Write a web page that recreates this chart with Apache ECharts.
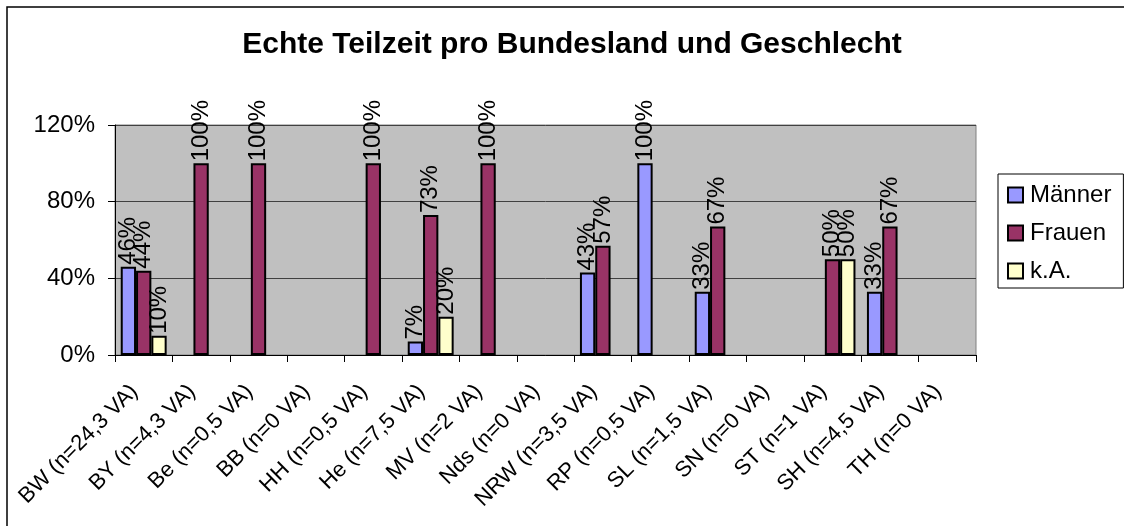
<!DOCTYPE html>
<html>
<head>
<meta charset="utf-8">
<title>Echte Teilzeit pro Bundesland und Geschlecht</title>
<script src="https://cdn.jsdelivr.net/npm/echarts@6/dist/echarts.min.js"></script>
<style>
  html, body { margin: 0; padding: 0; background: #fff; }
  #chart { width: 1124px; height: 526px; }
</style>
</head>
<body>
<div id="chart"></div>
<script>
// Bundesländer mit Anzahl der Vollzeitäquivalente
const categories = [
  'BW (n=24,3 VA)', 'BY (n=4,3 VA)', 'Be (n=0,5 VA)', 'BB (n=0 VA)', 'HH (n=0,5 VA)',
  'He (n=7,5 VA)', 'MV (n=2 VA)', 'Nds (n=0 VA)', 'NRW (n=3,5 VA)', 'RP (n=0,5 VA)',
  'SL (n=1,5 VA)', 'SN (n=0 VA)', 'ST (n=1 VA)', 'SH (n=4,5 VA)', 'TH (n=0 VA)'
];

// Anteile in Prozent (null = kein Wert)
const maenner     = [46, null, null, null, null, 7, null, null, 43, 100, 33, null, null, 33, null];
const frauen      = [44, 100, 100, null, 100, 73, 100, null, 57, null, 67, null, 50, 67, null];
const keineAngabe = [10, null, null, null, null, 20, null, null, null, null, null, null, 50, null, null];

const yTicks = [0, 40, 80, 120];

const FONT = "'Liberation Sans', Arial, sans-serif";

const chart = echarts.init(document.getElementById('chart'), null, { renderer: 'canvas' });

const labelCfg = {
  show: true,
  position: 'top',
  rotate: 90,
  align: 'left',
  verticalAlign: 'middle',
  distance: 2,
  formatter: p => p.value + '%',
  color: '#000',
  fontFamily: FONT,
  fontSize: 24
};

function barSeries(name, data, color) {
  return {
    name: name,
    type: 'bar',
    data: data,
    barGap: '0%',
    barCategoryGap: '20%',
    itemStyle: { color: color, borderColor: '#000', borderWidth: 2 },
    label: labelCfg,
    emphasis: { disabled: true },
    animation: false
  };
}

chart.setOption({
  animation: false,
  textStyle: { fontFamily: FONT },
  title: {
    text: 'Echte Teilzeit pro Bundesland und Geschlecht',
    left: 572,
    top: 30,
    textAlign: 'center',
    padding: 0,
    textStyle: { fontFamily: FONT, fontSize: 30, fontWeight: 'bold', color: '#000' }
  },
  graphic: [{
    type: 'rect',
    shape: { x: 7, y: 7, width: 1200, height: 600 },
    style: { fill: 'none', stroke: '#000', lineWidth: 1.5 },
    silent: true,
    z: -10
  }],
  legend: {
    orient: 'vertical',
    left: 998,
    top: 174,
    padding: [9, 12, 5, 9],
    itemGap: 14,
    itemWidth: 15,
    itemHeight: 15,
    icon: 'rect',
    backgroundColor: '#fff',
    borderColor: '#000',
    borderWidth: 1,
    itemStyle: { borderColor: '#000', borderWidth: 2 },
    textStyle: { fontFamily: FONT, fontSize: 24, color: '#000', padding: [0, 0, 0, 2] },
    data: ['Männer', 'Frauen', 'k.A.']
  },
  grid: {
    left: 115,
    top: 125,
    right: 148,
    bottom: 171,
    show: true,
    backgroundColor: '#C0C0C0',
    borderColor: '#808080',
    borderWidth: 1,
    containLabel: false
  },
  xAxis: {
    type: 'category',
    data: categories,
    boundaryGap: true,
    axisLine: { show: true, lineStyle: { color: '#000', width: 1 } },
    axisTick: { show: true, length: 7, inside: false, lineStyle: { color: '#000' } },
    axisLabel: {
      interval: 0,
      rotate: 45,
      margin: 24,
      padding: [0, 13, 0, 0],
      color: '#000',
      fontFamily: FONT,
      fontSize: 22
    },
    splitLine: { show: false }
  },
  yAxis: {
    type: 'value',
    min: yTicks[0],
    max: yTicks[yTicks.length - 1],
    interval: 40,
    axisLine: { show: true, lineStyle: { color: '#000', width: 1 } },
    axisTick: { show: true, length: 7, lineStyle: { color: '#000' } },
    axisLabel: {
      margin: 20,
      formatter: v => v + '%',
      color: '#000',
      fontFamily: FONT,
      fontSize: 24
    },
    splitLine: { show: true, lineStyle: { color: '#404040', width: 1 } }
  },
  series: [
    barSeries('Männer', maenner, '#9999FF'),
    barSeries('Frauen', frauen, '#993366'),
    barSeries('k.A.', keineAngabe, '#FFFFCC')
  ]
});
</script>
</body>
</html>
